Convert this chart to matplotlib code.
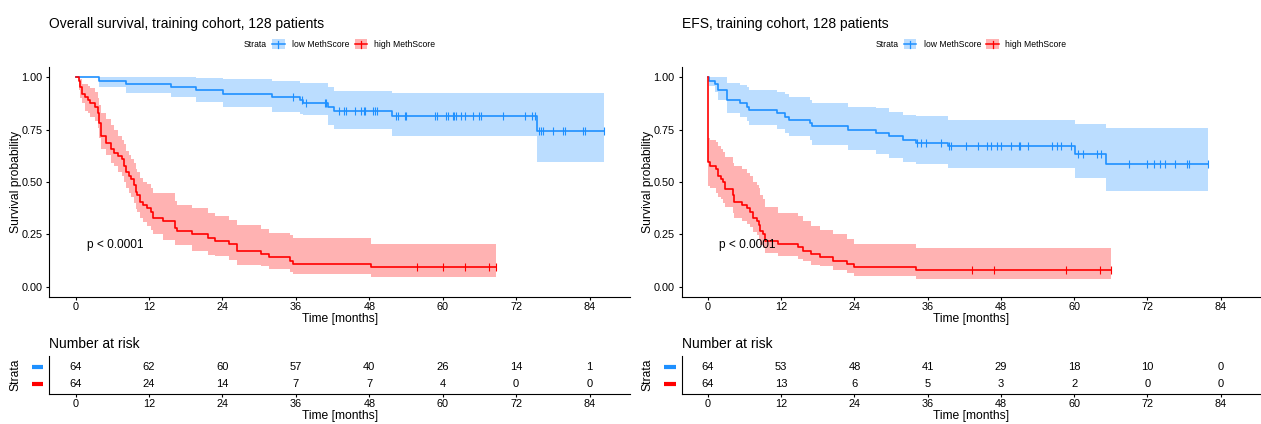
import numpy as np
import matplotlib
matplotlib.use('Agg')
import matplotlib.pyplot as plt
import matplotlib.transforms as mtransforms
from matplotlib.patches import Rectangle
from matplotlib.lines import Line2D

plt.rcParams['font.family'] = ['Liberation Sans', 'DejaVu Sans']

BLUE = '#1E90FF'
RED = '#FF0000'

# ---- overall survival, low MethScore ----
os_low_t = [0, 3.8, 8.3, 15.6, 19.7, 24.1, 32.1, 36.6, 37.2, 41.2, 42.3, 51.7, 75.4]
os_low_s = [1.0, 0.984, 0.969, 0.953, 0.938, 0.922, 0.906, 0.891, 0.875, 0.859, 0.841, 0.817, 0.744]
os_low_lo = [1.0, 0.955, 0.925, 0.905, 0.884, 0.86, 0.836, 0.825, 0.82, 0.773, 0.754, 0.72, 0.595]
os_low_up = [1.0, 1.0, 1.0, 1.0, 0.997, 0.99, 0.98, 0.973, 0.971, 0.952, 0.935, 0.924, 0.927]
os_low_end = 86.4
os_low_cens = [35.6, 37.0, 37.7, 40.7, 41.0, 43.0, 43.8, 44.2, 45.6, 46.7, 47.1, 47.3,
               48.6, 48.9, 49.2, 52.3, 52.7, 53.8, 54.0, 58.8, 59.0, 60.6, 60.8, 61.7,
               61.9, 62.2, 62.9, 63.7, 64.9, 65.9, 66.3, 69.9, 73.5, 74.6, 75.0, 75.7,
               76.1, 76.4, 78.0, 79.6, 80.0, 82.9, 83.2, 86.4]

# ---- overall survival, high MethScore ----
os_high_t = [0, 0.5, 0.7, 1.0, 1.5, 2.0, 2.4, 3.1, 3.6, 3.9, 4.1, 5.0, 5.8, 6.3, 7.0, 7.6,
             7.9, 8.3, 8.7, 9.1, 9.5, 9.8, 10.0, 10.5, 11.0, 11.7, 12.4, 12.7, 14.3, 16.2,
             16.6, 19.1, 21.6, 22.7, 25.1, 26.3, 30.3, 31.6, 35.0, 35.5, 48.3]
os_high_s = [1.0, 0.984, 0.953, 0.922, 0.906, 0.891, 0.875, 0.859, 0.828, 0.781, 0.719,
             0.688, 0.656, 0.641, 0.625, 0.609, 0.578, 0.547, 0.531, 0.516, 0.484, 0.453,
             0.438, 0.406, 0.391, 0.375, 0.359, 0.328, 0.313, 0.281, 0.266, 0.25, 0.234,
             0.219, 0.203, 0.172, 0.156, 0.141, 0.125, 0.109, 0.094]
os_high_lo = [1.0, 0.94, 0.90, 0.875, 0.84, 0.83, 0.81, 0.79, 0.76, 0.71, 0.66, 0.63, 0.59,
              0.575, 0.55, 0.53, 0.50, 0.47, 0.45, 0.43, 0.40, 0.37, 0.355, 0.33, 0.31, 0.29,
              0.27, 0.25, 0.225, 0.20, 0.20, 0.17, 0.154, 0.146, 0.13, 0.106, 0.098, 0.083,
              0.07, 0.059, 0.048]
os_high_up = [1.0, 1.0, 0.99, 0.97, 0.97, 0.96, 0.95, 0.93, 0.90, 0.87, 0.83, 0.80, 0.77,
              0.75, 0.72, 0.70, 0.68, 0.65, 0.63, 0.61, 0.59, 0.56, 0.55, 0.52, 0.50, 0.49,
              0.47, 0.45, 0.45, 0.41, 0.39, 0.375, 0.352, 0.34, 0.32, 0.297, 0.278, 0.257,
              0.245, 0.233, 0.205]
os_high_end = 68.7
os_high_cens = [55.8, 60.0, 63.6, 67.5, 68.7]

# ---- EFS, low MethScore ----
efs_low_t = [0, 0.2, 1.2, 1.6, 3.1, 5.3, 6.4, 6.8, 11.3, 12.6, 13.2, 16.7, 17.0, 23.0,
             27.6, 29.7, 31.9, 34.1, 39.4, 60.2, 65.2]
efs_low_s = [1.0, 0.984, 0.969, 0.938, 0.891, 0.875, 0.859, 0.844, 0.828, 0.812, 0.797,
             0.781, 0.766, 0.75, 0.734, 0.719, 0.703, 0.688, 0.671, 0.633, 0.586]
efs_low_lo = [1.0, 0.96, 0.93, 0.89, 0.83, 0.81, 0.79, 0.77, 0.755, 0.735, 0.72, 0.70,
              0.678, 0.654, 0.633, 0.614, 0.598, 0.586, 0.567, 0.519, 0.456]
efs_low_up = [1.0, 1.0, 1.0, 1.0, 0.975, 0.965, 0.955, 0.94, 0.93, 0.92, 0.905, 0.89,
              0.876, 0.86, 0.852, 0.836, 0.82, 0.813, 0.797, 0.778, 0.757]
efs_low_end = 81.9
efs_low_cens = [34.2, 34.9, 35.7, 38.1, 39.5, 39.8, 42.3, 44.3, 45.7, 46.3, 47.4, 48.0,
                49.6, 50.9, 51.2, 52.5, 56.4, 57.2, 57.9, 59.4, 60.7, 61.5, 63.7, 64.4,
                69.0, 72.0, 73.0, 74.0, 74.9, 76.5, 78.4, 78.8, 81.9]

# ---- EFS, high MethScore ----
efs_high_t = [0, 0, 0.4, 1.3, 1.7, 2.2, 2.5, 2.8, 4.1, 4.3, 5.5, 6.4, 6.9, 7.3, 8.0, 8.3,
              8.5, 9.0, 9.4, 11.4, 14.8, 15.6, 16.8, 18.3, 20.5, 22.8, 23.9, 34.1]
efs_high_s = [1.0, 0.594, 0.578, 0.563, 0.531, 0.516, 0.5, 0.469, 0.438, 0.406, 0.391,
              0.375, 0.359, 0.328, 0.313, 0.297, 0.266, 0.25, 0.219, 0.203, 0.188, 0.172,
              0.156, 0.141, 0.125, 0.109, 0.094, 0.078]
efs_high_lo = [1.0, 0.48, 0.47, 0.45, 0.43, 0.42, 0.40, 0.38, 0.35, 0.33, 0.315, 0.30,
               0.285, 0.26, 0.245, 0.23, 0.20, 0.185, 0.16, 0.146, 0.133, 0.122, 0.106,
               0.098, 0.08, 0.065, 0.051, 0.035]
efs_high_up = [1.0, 0.71, 0.70, 0.69, 0.67, 0.66, 0.645, 0.62, 0.59, 0.575, 0.56, 0.545,
               0.53, 0.50, 0.485, 0.47, 0.44, 0.42, 0.38, 0.35, 0.34, 0.313, 0.29, 0.27,
               0.25, 0.23, 0.205, 0.185]
efs_high_end = 66.1
efs_high_cens = [43.2, 46.8, 58.7, 64.3, 66.1]

# ---- number at risk ----
risk_times = [0, 12, 24, 36, 48, 60, 72, 84]
os_risk_low = [64, 62, 60, 57, 40, 26, 14, 1]
os_risk_high = [64, 24, 14, 7, 7, 4, 0, 0]
efs_risk_low = [64, 53, 48, 41, 29, 18, 10, 0]
efs_risk_high = [64, 13, 6, 5, 3, 2, 0, 0]

W, H = 1261, 424
fig = plt.figure(figsize=(W / 100, H / 100), dpi=100)


def box(l, t, r, b):
    return [l / W, 1 - b / H, (r - l) / W, (b - t) / H]


XLIM = (-4.3, 90.6)
TICK_FS = 7.8


def draw_km(ax, t, s, lo, up, end, cens, color):
    t_ext = np.append(t, end)
    ax.fill_between(t_ext, np.append(lo, lo[-1]), np.append(up, up[-1]),
                    step='post', color=color, alpha=0.3, lw=0)
    ax.step(t_ext, np.append(s, s[-1]), where='post', color=color, lw=1.2)
    idx = np.searchsorted(t, cens, side='right') - 1
    ax.plot(cens, np.asarray(s)[idx], ls='none', marker='|', ms=6, mew=0.8, color=color)


def style_main(ax):
    ax.set_xlim(*XLIM)
    ax.set_ylim(-0.05, 1.05)
    ax.set_xticks(risk_times)
    ax.set_yticks([0, 0.25, 0.5, 0.75, 1.0])
    ax.set_yticklabels(['0.00', '0.25', '0.50', '0.75', '1.00'])
    for sp in ['top', 'right']:
        ax.spines[sp].set_visible(False)
    for sp in ['left', 'bottom']:
        ax.spines[sp].set_linewidth(0.8)
    ax.tick_params(length=2.4, width=0.8, labelsize=TICK_FS)
    ax.tick_params(axis='x', pad=1.0)
    ax.tick_params(axis='y', pad=2.6)
    ax.set_xlabel('Time [months]', fontsize=8.7, va='center')
    ax.xaxis.set_label_coords(0.5, -0.094)
    ax.set_ylabel('Survival probability', fontsize=8.7, va='center')
    ax.yaxis.set_label_coords(-0.0575, 0.5)
    ax.text(1.8, 0.198, 'p < 0.0001', fontsize=8.6, ha='left', va='center')


def risk_table(ax, low, high):
    ax.set_xlim(*XLIM)
    ax.set_ylim(0.432, 2.625)
    ax.set_xticks(risk_times)
    ax.set_yticks([])
    for sp in ['top', 'right']:
        ax.spines[sp].set_visible(False)
    for sp in ['left', 'bottom']:
        ax.spines[sp].set_linewidth(0.8)
    ax.tick_params(axis='x', length=2.4, width=0.8, labelsize=TICK_FS, pad=1.0)
    for x, a, b in zip(risk_times, low, high):
        ax.text(x, 2, str(a), ha='center', va='center', fontsize=8)
        ax.text(x, 1, str(b), ha='center', va='center', fontsize=8)
    trans = mtransforms.blended_transform_factory(ax.transAxes, ax.transData)
    for yv, c in [(2, BLUE), (1, RED)]:
        ax.plot([-0.0303, -0.0103], [yv, yv], transform=trans, clip_on=False,
                color=c, lw=3, solid_capstyle='butt')
    ax.set_xlabel('Time [months]', fontsize=8.7, va='center')
    ax.xaxis.set_label_coords(0.5, -0.56)
    ax.set_ylabel('Strata', fontsize=8.7, va='center')
    ax.yaxis.set_label_coords(-0.0585, 0.5)


def legend(l, r):
    start = (l + r) / 2 - 96
    yc = 44.3
    fig.text(start / W, 1 - yc / H, 'Strata', fontsize=6.2, va='center', ha='left')
    for off, txt_off, c, lab in [(28.7, 48.7, BLUE, 'low MethScore'),
                                 (111, 130, RED, 'high MethScore')]:
        x0 = start + off
        fig.add_artist(Rectangle((x0 / W, 1 - (yc + 5) / H), 12.3 / W, 10 / H,
                                 transform=fig.transFigure, color=c, alpha=0.3, lw=0))
        fig.add_artist(Line2D([x0 / W, (x0 + 12.3) / W], [1 - yc / H] * 2,
                              transform=fig.transFigure, color=c, lw=1.1))
        fig.add_artist(Line2D([(x0 + 6.15) / W] * 2, [1 - (yc - 3.5) / H, 1 - (yc + 3.5) / H],
                              transform=fig.transFigure, color=c, lw=0.9))
        fig.text((start + txt_off) / W, 1 - yc / H, lab, fontsize=6.2, va='center', ha='left')


panels = [
    (49.3, 630, 'Overall survival, training cohort, 128 patients',
     (os_low_t, os_low_s, os_low_lo, os_low_up, os_low_end, os_low_cens),
     (os_high_t, os_high_s, os_high_lo, os_high_up, os_high_end, os_high_cens),
     os_risk_low, os_risk_high),
    (681.7, 1261, 'EFS, training cohort, 128 patients',
     (efs_low_t, efs_low_s, efs_low_lo, efs_low_up, efs_low_end, efs_low_cens),
     (efs_high_t, efs_high_s, efs_high_lo, efs_high_up, efs_high_end, efs_high_cens),
     efs_risk_low, efs_risk_high),
]

for l, r, title, low, high, rl, rh in panels:
    ax = fig.add_axes(box(l, 66.8, r, 297.3))
    draw_km(ax, *low, BLUE)
    draw_km(ax, *high, RED)
    style_main(ax)
    fig.text(l / W, 1 - 28.3 / H, title, fontsize=10, ha='left', va='baseline')
    legend(l, r)

    tb = fig.add_axes(box(l, 355.7, r, 394.3))
    risk_table(tb, rl, rh)
    fig.text(l / W, 1 - 348.3 / H, 'Number at risk', fontsize=10, ha='left', va='baseline')

fig.savefig('out.png', dpi=100)
